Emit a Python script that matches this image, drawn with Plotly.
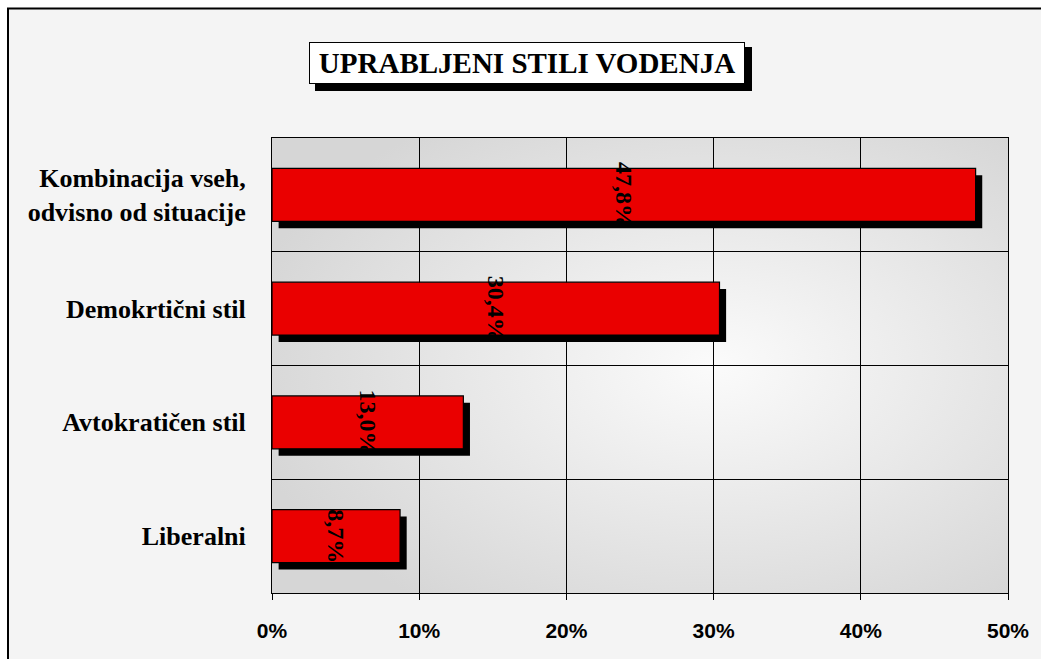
import base64
import plotly.graph_objects as go

# ---- data ----
categories = ["Liberalni", "Avtokratičen stil", "Demokrtični stil",
              "Kombinacija vseh,<br>odvisno od situacije"]
values = [8.7, 13.0, 30.4, 47.8]
value_labels = ["8,7%", "13,0%", "30,4%", "47,8%"]
x_ticks = [0, 10, 20, 30, 40, 50]
x_tick_labels = ["0%", "10%", "20%", "30%", "40%", "50%"]
title_text = "UPRABLJENI STILI VODENJA"

positions = list(range(len(categories)))

# ---- layout geometry (pixels) ----
W, H = 1041, 659
L, R, T, B = 272, 33, 138, 66
PW, PH = W - L - R, H - T - B


def px(xp):
    return (xp - L) / PW


def py(yp):
    return (H - B - yp) / PH


BAR_W = 0.465
SH_DX = 0.45   # shadow offset along value axis (percent units)
SH_DY = 0.06   # shadow offset along category axis

fig = go.Figure()

# shadows
fig.add_trace(go.Bar(
    y=positions, x=values, base=[SH_DX] * len(values), orientation="h",
    width=BAR_W, offset=-BAR_W / 2 - SH_DY,
    marker=dict(color="black", line=dict(width=0)),
    hoverinfo="skip", showlegend=False,
))
# bars
fig.add_trace(go.Bar(
    y=positions, x=values, orientation="h",
    width=BAR_W, offset=-BAR_W / 2,
    marker=dict(color="#ea0000", line=dict(color="black", width=1.2)),
    text=value_labels, textposition="inside", insidetextanchor="middle",
    textangle=90, constraintext="none",
    textfont=dict(family="Liberation Serif", size=24, color="black",
                  weight="bold"),
    showlegend=False,
))

# background gradient of plot area
svg = ('<svg xmlns="http://www.w3.org/2000/svg" width="736" height="455" '
       'preserveAspectRatio="none">'
       '<defs><radialGradient id="g" cx="0.6" cy="0.5" r="0.65">'
       '<stop offset="0" stop-color="#fbfbfb"/>'
       '<stop offset="1" stop-color="#d6d6d6"/></radialGradient></defs>'
       '<rect width="736" height="455" fill="url(#g)"/></svg>')
src = "data:image/svg+xml;base64," + base64.b64encode(svg.encode()).decode()

fig.update_layout(
    width=W, height=H,
    margin=dict(l=L, r=R, t=T, b=B, pad=0),
    paper_bgcolor="#f4f4f4",
    plot_bgcolor="rgba(0,0,0,0)",
    barmode="overlay",
    images=[dict(source=src, xref="paper", yref="paper", x=0, y=1,
                 sizex=1, sizey=1, xanchor="left", yanchor="top",
                 sizing="stretch", layer="below")],
    xaxis=dict(
        range=[0, 50], tickvals=x_ticks, ticktext=x_tick_labels,
        showgrid=True, gridcolor="black", gridwidth=1,
        showline=True, linecolor="black", linewidth=1, mirror=True,
        ticks="outside", ticklen=6, tickcolor="black",
        ticklabelstandoff=13,
        tickfont=dict(family="Liberation Sans", size=21, color="black",
                      weight="bold"),
        zeroline=False, fixedrange=True,
    ),
    yaxis=dict(
        range=[-0.5, 3.5], tickvals=positions, ticktext=categories,
        showgrid=False,
        minor=dict(tick0=0.5, dtick=1, showgrid=True, gridcolor="black",
                   gridwidth=1, ticks=""),
        showline=True, linecolor="black", linewidth=1, mirror=True,
        ticks="", ticklabelstandoff=20,
        tickfont=dict(family="Liberation Serif", size=26, color="black",
                      weight="bold"),
        zeroline=False, fixedrange=True,
    ),
    shapes=[
        # white outside strips and border of the chart frame
        dict(type="rect", xref="paper", yref="paper", x0=px(0), x1=px(W),
             y0=py(8), y1=py(0), fillcolor="white", line=dict(width=0)),
        dict(type="rect", xref="paper", yref="paper", x0=px(0), x1=px(7),
             y0=py(H), y1=py(0), fillcolor="white", line=dict(width=0)),
        dict(type="line", xref="paper", yref="paper", x0=px(7), x1=px(W),
             y0=py(8.5), y1=py(8.5), line=dict(color="black", width=2)),
        dict(type="line", xref="paper", yref="paper", x0=px(8), x1=px(8),
             y0=py(8), y1=py(H), line=dict(color="black", width=2)),
        # title box shadow
        dict(type="rect", xref="paper", yref="paper", x0=px(315), x1=px(752),
             y0=py(91), y1=py(47), fillcolor="black", line=dict(width=0)),
    ],
    annotations=[
        dict(text=title_text, xref="paper", yref="paper",
             x=px(527), y=py(63), xanchor="center", yanchor="middle",
             showarrow=False,
             width=432, height=38, borderpad=1, borderwidth=1,
             bgcolor="white", bordercolor="black",
             font=dict(family="Liberation Serif", size=29, color="black",
                       weight="bold")),
    ],
)

fig.write_html("out.html")
